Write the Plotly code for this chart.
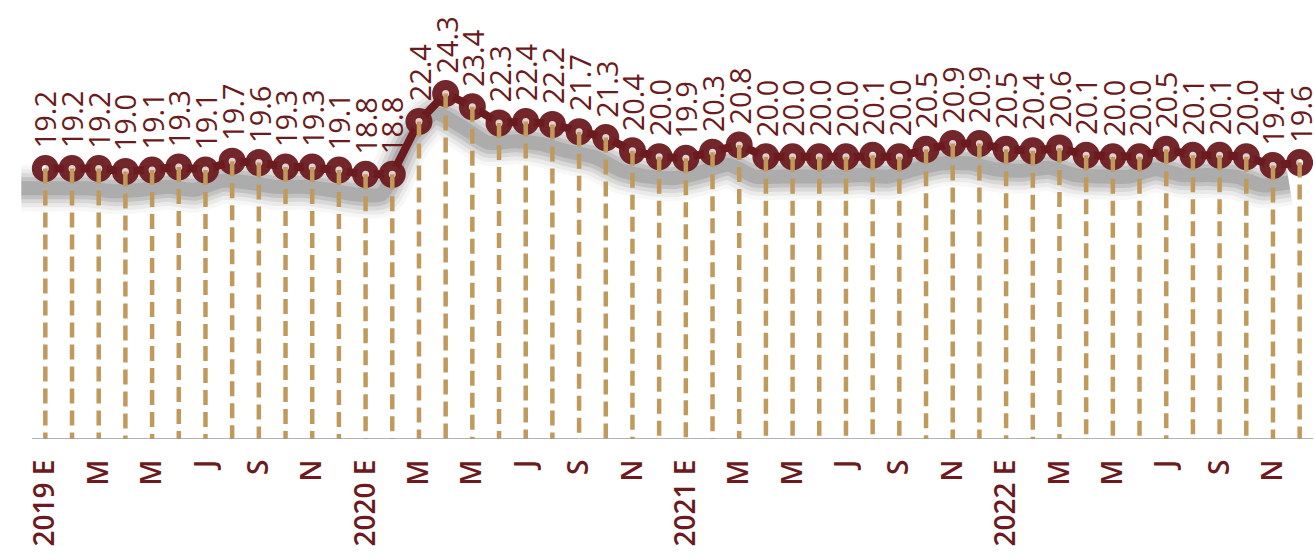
import plotly.graph_objects as go

values = [19.2, 19.2, 19.2, 19.0, 19.1, 19.3, 19.1, 19.7, 19.6, 19.3, 19.3, 19.1,
          18.8, 18.8, 22.4, 24.3, 23.4, 22.3, 22.4, 22.2, 21.7, 21.3, 20.4, 20.0,
          19.9, 20.3, 20.8, 20.0, 20.0, 20.0, 20.0, 20.1, 20.0, 20.5, 20.9, 20.9,
          20.5, 20.4, 20.6, 20.1, 20.0, 20.0, 20.5, 20.1, 20.1, 20.0, 19.4, 19.6]
tick_labels = ["2019 E", "M", "M", "J", "S", "N",
               "2020 E", "M", "M", "J", "S", "N",
               "2021 E", "M", "M", "J", "S", "N",
               "2022 E", "M", "M", "J", "S", "N"]

MAROON = "#6B1B20"
TAN = "#C19A5B"

x = list(range(len(values)))
tick_vals = x[::2]
Y0 = 0.8

fig = go.Figure()

# soft shadow (offset, blurred-looking copies of the line)
sdx, sdy = -0.4, -1.35
shx = [x[0] - 0.9] + [v + sdx for v in x]
shy = [values[0] + sdy] + [v + sdy for v in values]
for w, a in [(46, 0.04), (38, 0.06), (30, 0.09), (22, 0.12), (14, 0.14)]:
    fig.add_trace(go.Scatter(
        x=shx, y=shy, mode="lines",
        line=dict(color=f"rgba(40,40,40,{a})", width=w, shape="spline", smoothing=0.6),
        hoverinfo="skip", showlegend=False))

# main line
fig.add_trace(go.Scatter(
    x=x, y=values, mode="lines",
    line=dict(color=MAROON, width=8),
    hoverinfo="skip", showlegend=False))

# markers
fig.add_trace(go.Scatter(
    x=x, y=values, mode="markers",
    marker=dict(symbol="circle", size=17, color="rgba(255,255,255,0.8)",
                line=dict(color="rgba(107,27,32,0.95)", width=10)),
    hoverinfo="skip", showlegend=False))

# dashed drop lines
dx, dy = [], []
for xi, v in zip(x, values):
    dx += [xi, xi, None]
    dy += [v, Y0, None]
fig.add_trace(go.Scatter(
    x=dx, y=dy, mode="lines",
    line=dict(color=TAN, width=4.5, dash="15px,7px"),
    hoverinfo="skip", showlegend=False))

for xi, v in zip(x, values):
    fig.add_annotation(
        x=xi, y=v, text=f"{v:.1f}", showarrow=False, textangle=-90,
        xanchor="center", yanchor="bottom", yshift=18,
        font=dict(family="Open Sans", size=29, color=MAROON, weight=500))

# baseline axis line
fig.add_shape(type="line", xref="x", yref="y",
              x0=x[0] - 0.5, x1=x[-1] + 0.5, y0=Y0, y1=Y0,
              line=dict(color="#9a9a9a", width=1.5), layer="above")

fig.update_layout(
    width=1315, height=560,
    margin=dict(l=0, r=2, t=0, b=121),
    paper_bgcolor="white", plot_bgcolor="white",
    xaxis=dict(range=[-0.5 - 32 / 26.69, len(values) - 0.5], tickvals=tick_vals,
               ticktext=tick_labels, tickangle=-90, showgrid=False, zeroline=False,
               showline=False, ticks="", ticklabelstandoff=14,
               tickfont=dict(family="Open Sans", size=28, color=MAROON, weight=600)),
    yaxis=dict(range=[Y0, 30.66], visible=False, showgrid=False, zeroline=False),
)

fig.write_html("out.html", post_script="document.body.style.margin='0';",
               config={"displayModeBar": False})
